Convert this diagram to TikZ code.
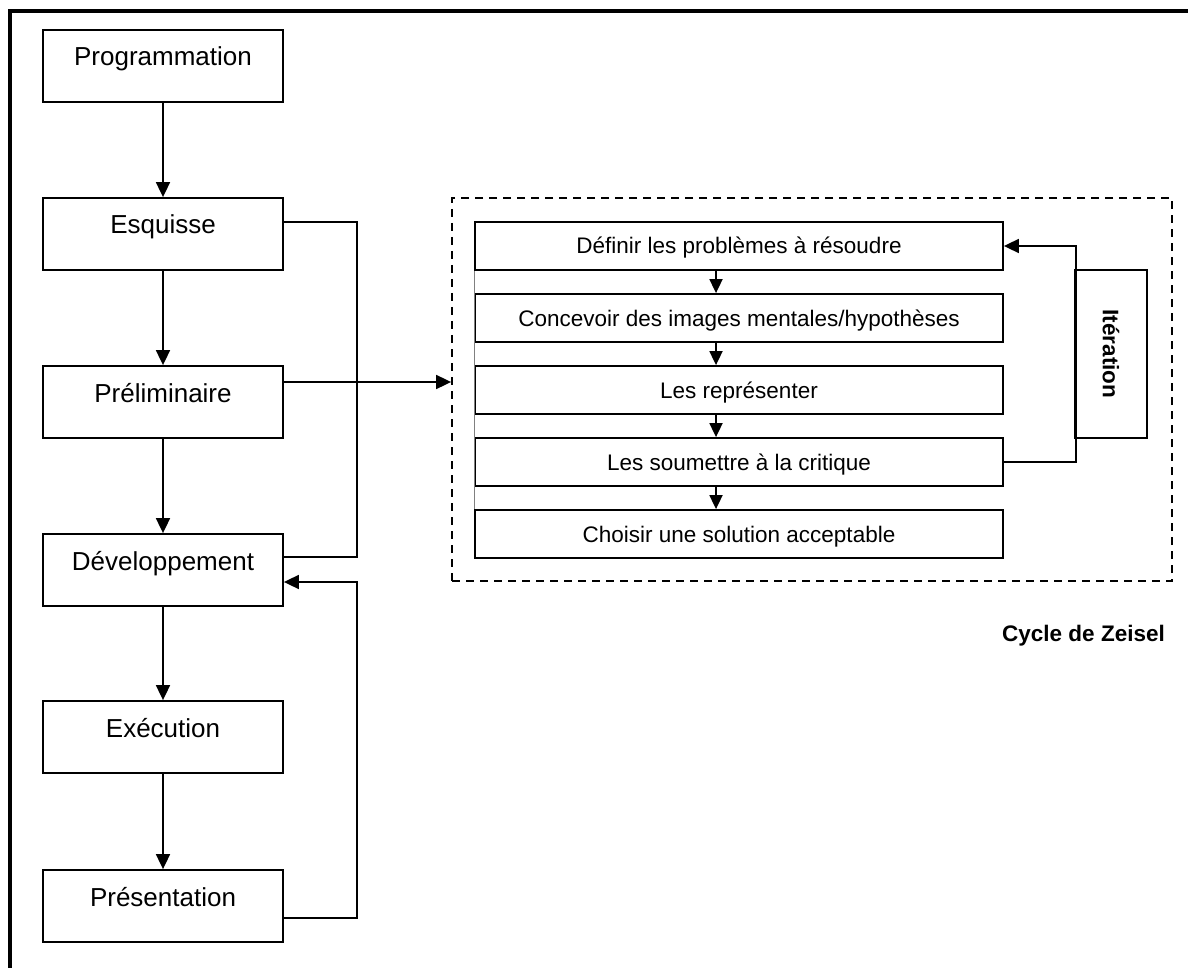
\documentclass[tikz,border=0pt]{standalone}
\usepackage{fontspec}
\setmainfont{Liberation Sans}
\usetikzlibrary{arrows.meta}

\tikzset{
  etape/.style={draw, line width=1.8pt, minimum width=240pt, minimum height=72pt,
    inner sep=0pt, text height=20pt, text depth=20pt, font=\fontsize{26}{30}\selectfont},
  tache/.style={draw, line width=1.8pt, minimum width=528pt, minimum height=48pt,
    inner sep=0pt, text height=16pt, text depth=0pt, font=\fontsize{22.5}{27}\selectfont},
  fleche/.style={line width=1.8pt, -{Triangle[length=15pt,width=14pt]}},
  petite/.style={line width=1.8pt, -{Triangle[length=14pt,width=13pt]}},
  lien/.style={line width=1.8pt},
}

\begin{document}
\begin{tikzpicture}[x=1pt, y=-1pt]
  \useasboundingbox (0,0) rectangle (1188,968);
  % cadre
  \draw[line width=4pt] (10,968) -- (10,11) -- (1188,11);

  % phases
  \node[etape] (prog) at (163,66)  {Programmation};
  \node[etape] (esq)  at (163,234) {Esquisse};
  \node[etape] (pre)  at (163,402) {Préliminaire};
  \node[etape] (dev)  at (163,570) {Développement};
  \node[etape] (exe)  at (163,737) {Exécution};
  \node[etape] (pres) at (163,906) {Présentation};
  \foreach \a/\b in {prog/esq, esq/pre, pre/dev, dev/exe, exe/pres}
    \draw[fleche] (\a) -- (\b);

  % retours
  \draw[lien] ([yshift=12pt]esq.east) -- ++(73,0) |- ([yshift=13pt]dev.east);
  \draw[fleche] ([yshift=-12pt]pres.east) -- ++(73,0) |- ([yshift=-12pt]dev.east);

  % cycle de Zeisel
  \node[draw, line width=1.8pt, dash pattern=on 8pt off 6pt,
        minimum width=720pt, minimum height=383pt] (cadre) at (812,389.5) {};
  \coordinate (preout) at ([yshift=20pt]pre.east);
  \draw[fleche] (preout) -- (preout -| cadre.west);

  \node[tache] (z1) at (739,246) {Définir les problèmes à résoudre};
  \node[tache] (z2) at (739,318) {Concevoir des images mentales/hypothèses};
  \node[tache] (z3) at (739,390) {Les représenter};
  \node[tache] (z4) at (739,462) {Les soumettre à la critique};
  \node[tache] (z5) at (739,534) {Choisir une solution acceptable};
  \draw[gray, line width=1pt] (z1.south west) -- (z5.north west);
  \foreach \a/\b in {z1/z2, z2/z3, z3/z4, z4/z5}
    \draw[petite] ([xshift=-23pt]\a.south) -- ([xshift=-23pt]\b.north);

  % iteration
  \node[draw, line width=1.8pt, rotate=-90, minimum width=168pt, minimum height=72pt,
        font=\bfseries\fontsize{22.5}{27}\selectfont] (iter) at (1111,354) {Itération};
  \draw[fleche] (z4.east) -- ++(72,0) |- (z1.east);

  \node[anchor=base east, inner sep=0pt, font=\bfseries\fontsize{22.5}{27}\selectfont]
    (titre) at (1165,641) {Cycle de Zeisel};
\end{tikzpicture}
\end{document}
